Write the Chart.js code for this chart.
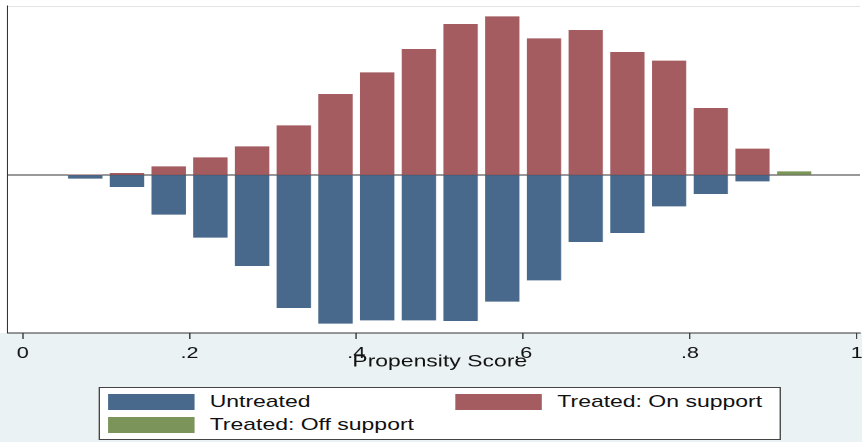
<!DOCTYPE html>
<html>
<head>
<meta charset="utf-8">
<script src="https://cdn.jsdelivr.net/npm/chart.js@4.4.1/dist/chart.umd.min.js"></script>
<style>
    html, body { margin: 0; padding: 0; background: #eaf2f3; overflow: hidden; }
    /* the reference graph is stretched sideways, so draw narrow and widen it */
    #stage { position: relative; width: 638px; height: 442px; transform: scaleX(1.3511); transform-origin: 0 0; }
    #legend { position: absolute; left: 72.8px; top: 386.7px; width: 505px; height: 53px; box-sizing: border-box;
              background: #fff; border: 1px solid #444; font: 17px "Liberation Sans", Arial, sans-serif; color: #111; }
    .item { position: absolute; height: 16px; line-height: 16px; white-space: nowrap; }
    .item i { position: absolute; left: 0; top: 0; width: 64px; height: 16px; }
    .item span { position: absolute; left: 75px; top: 0; }
</style>
</head>
<body>
<div id="stage">
    <canvas id="chart"></canvas>
    <div id="legend"></div>
</div>
<script>
    // bin centres of the histogram (width .05)
    var binCenters = [0.075, 0.125, 0.175, 0.225, 0.275, 0.325, 0.375, 0.425, 0.475,
                      0.525, 0.575, 0.625, 0.675, 0.725, 0.775, 0.825, 0.875];
    // untreated drawn below zero
    var untreated = [-3.3, -11.7, -39.3, -62.3, -90.7, -132.7, -148.3, -145, -145,
                     -145.7, -126.3, -105, -66.7, -57.7, -31, -18.7, -6];
    var treatedOn = [0, 1.7, 8.3, 17.3, 28.3, 49.3, 80.7, 102.3, 125.7,
                     150.7, 158.3, 136.3, 144.7, 122.7, 114, 66.7, 26];
    var offCenters = [0.925];
    var treatedOff = [3.3];

    var tickValues = [0, 0.2, 0.4, 0.6, 0.8, 1];
    var tickLabels = ['0', '.2', '.4', '.6', '.8', '1'];
    var xTitle = 'Propensity Score';

    var FONT = '"Liberation Sans", Arial, sans-serif';

    function points(xs, ys) {
        return xs.map(function (x, i) { return { x: x, y: ys[i] }; });
    }

    // white plot region behind the bars
    var plotBackground = {
        id: 'plotBackground',
        beforeDraw: function (chart) {
            var c = chart.ctx, a = chart.chartArea;
            c.save();
            c.fillStyle = '#ffffff';
            c.fillRect(0, 0, chart.width, a.bottom);
            c.strokeStyle = '#e4e4e4';
            c.lineWidth = 1;
            c.beginPath();
            c.moveTo(a.left, a.top + 0.5);
            c.lineTo(a.right, a.top + 0.5);
            c.stroke();
            c.restore();
        }
    };

    // axis title, centred on the middle of the 0..1 range as Stata does
    var axisTitle = {
        id: 'axisTitle',
        afterDraw: function (chart) {
            var c = chart.ctx, x = chart.scales.x;
            c.save();
            c.font = '17px ' + FONT;
            c.fillStyle = '#111';
            c.textAlign = 'center';
            c.textBaseline = 'alphabetic';
            c.fillText(xTitle, x.getPixelForValue(0.5), 366.5);
            c.restore();
        }
    };

    var chart = new Chart(document.getElementById('chart'), {
        type: 'bar',
        data: {
            datasets: [{
                label: 'Untreated',
                data: points(binCenters, untreated),
                backgroundColor: '#48698b'
            }, {
                label: 'Treated: On support',
                data: points(binCenters, treatedOn),
                backgroundColor: '#a45c61'
            }, {
                label: 'Treated: Off support',
                data: points(offCenters, treatedOff),
                backgroundColor: '#7b9459'
            }]
        },
        options: {
            responsive: true,
            maintainAspectRatio: false,
            animation: false,
            devicePixelRatio: 2,
            layout: { padding: { left: 5.4, top: 6, right: 1.5, bottom: 71.3 } },
            datasets: { bar: { grouped: false, barThickness: 24.7, borderWidth: 0 } },
            plugins: { legend: { display: false }, tooltip: { enabled: false } },
            scales: {
                x: {
                    type: 'linear',
                    offset: false,
                    min: -0.0185,
                    max: 1.0039,
                    afterBuildTicks: function (axis) {
                        axis.ticks = tickValues.map(function (v) { return { value: v }; });
                    },
                    afterFit: function (axis) {
                        axis.height = 37.7;
                        axis.paddingLeft = 0;
                        axis.paddingRight = 0;
                    },
                    ticks: {
                        autoSkip: false,
                        maxRotation: 0,
                        padding: 5,
                        color: '#111',
                        font: { family: FONT, size: 16 },
                        callback: function (value, index) { return tickLabels[index]; }
                    },
                    grid: { offset: false, drawOnChartArea: false, drawTicks: true, tickLength: 6, color: '#444' },
                    border: { display: true, color: '#333', width: 1 },
                    title: { display: false }
                },
                y: {
                    min: -158,
                    max: 169,
                    afterBuildTicks: function (axis) { axis.ticks = [{ value: 0 }]; },
                    afterFit: function (axis) { axis.width = 0; },
                    ticks: { display: false },
                    grid: { drawTicks: false, color: '#333', lineWidth: 1 },
                    border: { display: true, color: '#333', width: 1 }
                }
            }
        },
        plugins: [plotBackground, axisTitle]
    });

    // legend boxes laid out in two columns like the original
    var slots = [[6.4, 6.3], [263.7, 6.3], [6.4, 29]];
    var legend = document.getElementById('legend');
    chart.data.datasets.forEach(function (ds, i) {
        var item = document.createElement('div');
        item.className = 'item';
        item.style.left = slots[i][0] + 'px';
        item.style.top = slots[i][1] + 'px';
        item.innerHTML = '<i style="background:' + ds.backgroundColor + '"></i><span>' + ds.label + '</span>';
        legend.appendChild(item);
    });
</script>
</body>
</html>
